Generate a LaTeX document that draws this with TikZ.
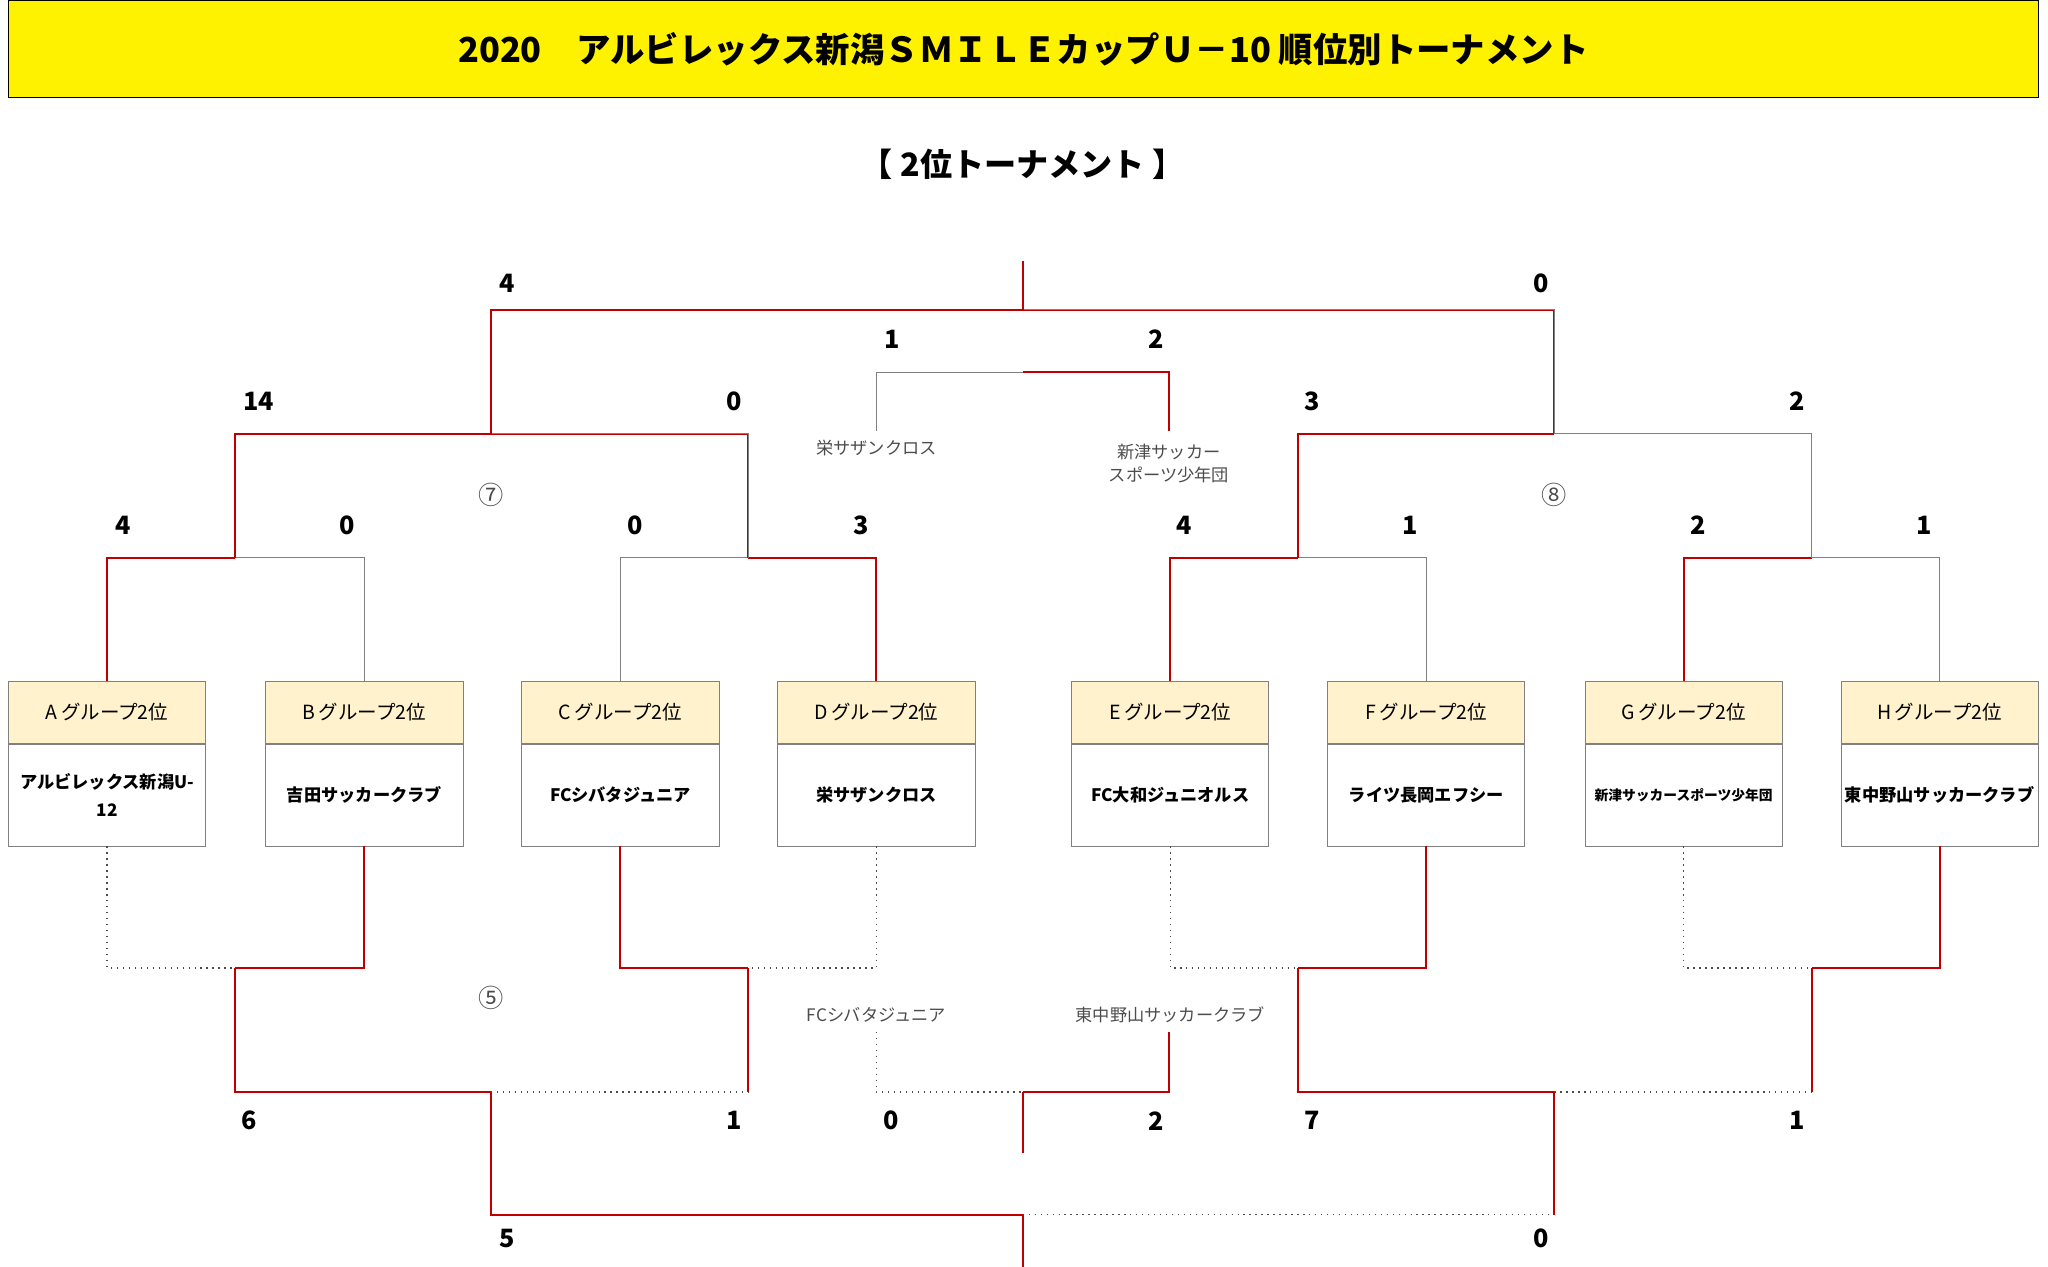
\documentclass[tikz,border=0pt]{standalone}
\usepackage{fontspec}
\setmainfont{Noto Sans CJK JP}
\usetikzlibrary{positioning}
\definecolor{winred}{RGB}{192,0,0}
\definecolor{headfill}{RGB}{255,242,204}
\tikzset{
  head/.style={rectangle, draw=gray, fill=headfill, minimum width=3.02cm, minimum height=0.94cm, inner sep=0pt, font=\fontsize{8.5}{10}\selectfont},
  team/.style={rectangle, draw=gray, fill=white, minimum width=3.02cm, minimum height=1.56cm, inner sep=1pt, align=center, text width=2.9cm, font=\bfseries\fontsize{7.5}{12}\selectfont},
  score/.style={font=\bfseries\fontsize{11}{12}\selectfont},
  small/.style={font=\fontsize{7.5}{10}\selectfont, text=black!70, align=center},
  win/.style={draw=winred, line width=0.9pt},
  lose/.style={draw=gray, line width=0.6pt},
  dot/.style={draw=black!70, dotted, line width=0.6pt}
}
\begin{document}
\begin{tikzpicture}[x=0.02cm, y=-0.02cm]
\useasboundingbox (0,0) rectangle (1568,970);

% Title
\node (title) [rectangle, draw, fill=yellow, minimum width=31.1cm, minimum height=1.5cm, font=\bfseries\fontsize{15}{18}\selectfont] at (783.5,37.5) {2020\quad アルビレックス新潟ＳＭＩＬＥカップＵ－10 順位別トーナメント};
\node (subtitle) [font=\bfseries\fontsize{14}{16}\selectfont] at (783,126) {【 2位トーナメント 】};

% Teams
\foreach \id/\x/\grp/\name in {A/82/A/{アルビレックス新潟U-\\12}, B/279/B/吉田サッカークラブ, C/475/C/FCシバタジュニア, D/671/D/栄サザンクロス, E/896/E/FC大和ジュニオルス, F/1092/F/ライツ長岡エフシー, G/1289/G/{\fontsize{6}{8}\selectfont 新津サッカースポーツ少年団}, H/1485/H/東中野山サッカークラブ}{
  \node (h\id) [head] at (\x,545.5) {\grp\,グループ2位};
  \node (b\id) [team, below=0pt of h\id] {\name};
}

% Junctions
\coordinate (uAB) at (180,427); \coordinate (uCD) at (573,427);
\coordinate (uEF) at (994,427); \coordinate (uGH) at (1387,427);
\coordinate (u7) at (376,332); \coordinate (u8) at (1190,332);
\coordinate (uF) at (783,237); \coordinate (uTop) at (783,200);
\coordinate (u3) at (783,285);
\coordinate (u3L) at (671,330); \coordinate (u3R) at (895,330);
\coordinate (lAB) at (180,741); \coordinate (lCD) at (573,741);
\coordinate (lEF) at (994,741); \coordinate (lGH) at (1387,741);
\coordinate (l5) at (376,836); \coordinate (l6) at (1190,836);
\coordinate (lF) at (783,930); \coordinate (lBot) at (783,970);
\coordinate (l3) at (783,836); \coordinate (l3Bot) at (783,883);
\coordinate (l3L) at (671,790); \coordinate (l3R) at (895,790);

% Upper bracket
\draw[win] (hA.north) |- (uAB); \draw[lose] (hB.north) |- (uAB);
\draw[lose] (hC.north) |- (uCD); \draw[win] (hD.north) |- (uCD);
\draw[win] (hE.north) |- (uEF); \draw[lose] (hF.north) |- (uEF);
\draw[win] (hG.north) |- (uGH); \draw[lose] (hH.north) |- (uGH);
\draw[win] (uAB) |- (u7); \draw[win] (uCD) |- (u7);
\draw[lose] (u7) -| (uCD);
\draw[win] (uEF) |- (u8); \draw[lose] (u8) -| (uGH);
\draw[win] (u7) |- (uF); \draw[win] (u8) |- (uF);
\draw[lose] (uF) -| (u8);
\draw[win] (uAB) |- (u7);
\draw[win] (uTop) -- (uF);
\draw[lose] (u3L) |- (u3); \draw[win] (u3R) |- (u3);
\draw[win] (u7) |- (uF);

% Lower bracket
\draw[dot] (bA.south) |- (lAB); \draw[win] (bB.south) |- (lAB);
\draw[win] (bC.south) |- (lCD); \draw[dot] (bD.south) |- (lCD);
\draw[dot] (bE.south) |- (lEF); \draw[win] (bF.south) |- (lEF);
\draw[dot] (bG.south) |- (lGH); \draw[win] (bH.south) |- (lGH);
\draw[win] (lAB) |- (l5); \draw[dot] (l5) -| (lCD); \draw[win] (lCD) -- (lCD |- l5);
\draw[win] (lEF) |- (l6); \draw[dot] (l6) -| (lGH); \draw[win] (lGH) -- (lGH |- l6);
\draw[win] (l5) |- (lF); \draw[dot] (lF) -| (l6); \draw[win] (l6) -- (l6 |- lF);
\draw[win] (lF) -- (lBot);
\draw[dot] (l3L) |- (l3); \draw[win] (l3R) |- (l3); \draw[win] (l3) -- (l3Bot);

% Scores upper
\node[score] (s1) at (94,402) {4}; \node[score] (s2) at (266,402) {0};
\node[score] (s3) at (486,402) {0}; \node[score] (s4) at (659,402) {3};
\node[score] (s5) at (907,402) {4}; \node[score] (s6) at (1080,402) {1};
\node[score] (s7) at (1300,402) {2}; \node[score] (s8) at (1473,402) {1};
\node[score] (s9) at (198,307) {14}; \node[score] (s10) at (562,307) {0};
\node[score] (s11) at (1005,307) {3}; \node[score] (s12) at (1376,307) {2};
\node[score] (s13) at (388,217) {4}; \node[score] (s14) at (1180,217) {0};
\node[score] (s15) at (683,260) {1}; \node[score] (s16) at (885,260) {2};
% Scores lower
\node[score] (t1) at (191,858) {6}; \node[score] (t2) at (562,858) {1};
\node[score] (t3) at (682,858) {0}; \node[score] (t4) at (885,858) {2};
\node[score] (t5) at (1005,858) {7}; \node[score] (t6) at (1376,858) {1};
\node[score] (t7) at (388,948) {5}; \node[score] (t8) at (1180,948) {0};

% Match numbers and labels
\node[small, font=\fontsize{11}{12}\selectfont] (m7) at (376,379) {⑦};
\node[small, font=\fontsize{11}{12}\selectfont] (m8) at (1190,379) {⑧};
\node[small, font=\fontsize{11}{12}\selectfont] (m5) at (376,764) {⑤};
\node[small] (n1) at (671,343) {栄サザンクロス};
\node[small] (n2) at (895,355) {新津サッカー\\スポーツ少年団};
\node[small] (n3) at (671,777) {FCシバタジュニア};
\node[small] (n4) at (896,777) {東中野山サッカークラブ};
\end{tikzpicture}
\end{document}
